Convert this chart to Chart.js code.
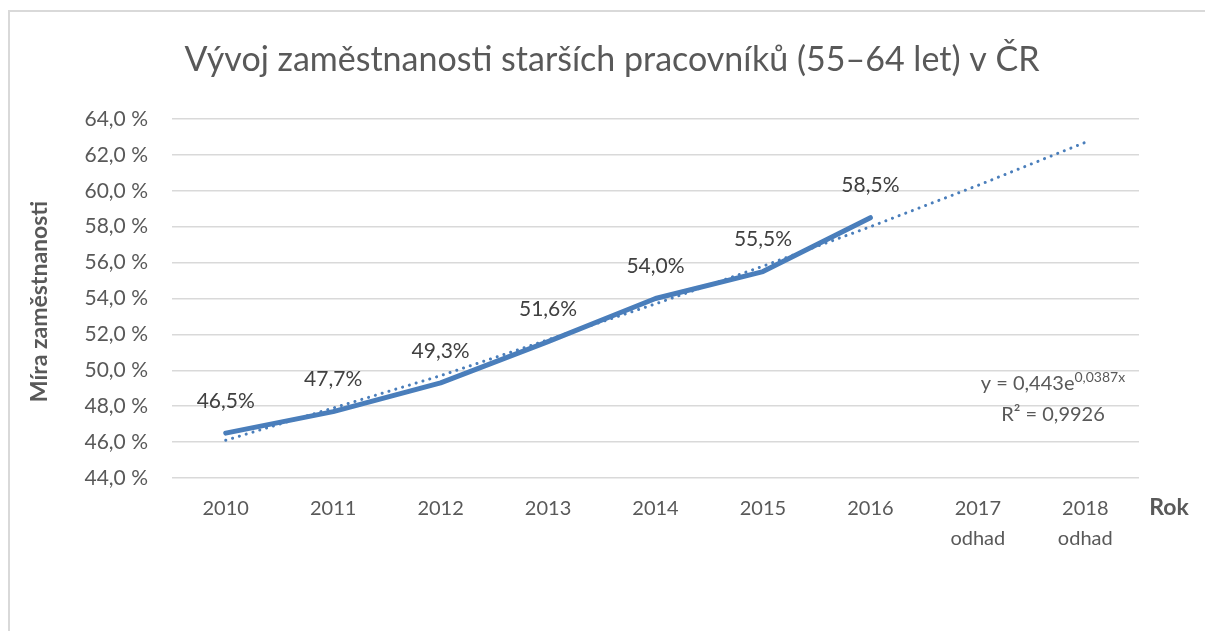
<!DOCTYPE html>
<html>
<head>
<meta charset="utf-8">
<script src="https://cdn.jsdelivr.net/npm/chart.js@4/dist/chart.umd.min.js"></script>
<style>
  html, body { margin: 0; padding: 0; background: #fff; }
  #frame { position: absolute; left: 8px; top: 10px; width: 1300px; height: 700px;
           border-top: 2px solid #d9d9d9; border-left: 2px solid #d9d9d9; }
  #wrap { position: absolute; left: 0; top: 0; width: 1205px; height: 631px; }
</style>
</head>
<body>
<div id="frame"></div>
<div id="wrap"><canvas id="chart"></canvas></div>
<script>
// categories and values
var years = [["2010"], ["2011"], ["2012"], ["2013"], ["2014"], ["2015"], ["2016"], ["2017", "odhad"], ["2018", "odhad"]];
var employment = [46.5, 47.7, 49.3, 51.6, 54.0, 55.5, 58.5, null, null];
var trend = [46.1, 47.9, 49.7, 51.7, 53.7, 55.8, 58.0, 60.3, 62.7];
var titleText = "Vývoj zaměstnanosti starších pracovníků (55–64 let) v ČR";
var yTitle = "Míra zaměstnanosti";
var xTitle = "Rok";

var blue = "#4A7EBB";
var grey = "#595959";
var font = "Lato, 'Open Sans', sans-serif";

function fmt(v, dec) {
    return v.toFixed(dec).replace(".", ",");
}

var extras = {
    id: "extras",
    afterDraw: function(chart) {
        var ctx = chart.ctx;
        var area = chart.chartArea;
        ctx.save();
        ctx.fillStyle = grey;
        ctx.textAlign = "center";
        ctx.textBaseline = "middle";

        // title
        ctx.font = "34px " + font;
        ctx.fillText(titleText, 612, 60);

        // axis titles
        ctx.font = "bold 23px " + font;
        ctx.fillText(xTitle, 1169, 508);
        ctx.save();
        ctx.translate(40, (area.top + area.bottom) / 2 + 3);
        ctx.rotate(-Math.PI / 2);
        ctx.fillText(yTitle, 0, 0);
        ctx.restore();

        // data labels
        ctx.fillStyle = "#404040";
        ctx.font = "21px " + font;
        var meta = chart.getDatasetMeta(0);
        meta.data.forEach(function(pt, i) {
            if (employment[i] == null) return;
            ctx.fillText(fmt(employment[i], 1) + "%", pt.x, pt.y - 32);
        });

        // trendline equation
        ctx.fillStyle = grey;
        ctx.font = "20px " + font;
        ctx.textAlign = "left";
        var base = "y = 0,443e";
        var sup = "0,0387x";
        var w1 = ctx.measureText(base).width;
        ctx.font = "14px " + font;
        var w2 = ctx.measureText(sup).width;
        var x0 = 1053 - (w1 + w2) / 2;
        ctx.font = "20px " + font;
        ctx.fillText(base, x0, 384);
        ctx.font = "14px " + font;
        ctx.fillText(sup, x0 + w1, 377);
        ctx.font = "20px " + font;
        ctx.textAlign = "center";
        ctx.fillText("R² = 0,9926", 1053, 415);
        ctx.restore();
    }
};

new Chart("chart", {
    type: "line",
    data: {
        labels: years,
        datasets: [{
            data: employment,
            borderColor: blue,
            borderWidth: 5,
            pointRadius: 0,
            borderCapStyle: "round",
            borderJoinStyle: "round",
            tension: 0,
            order: 0
        }, {
            data: trend,
            borderColor: blue,
            borderWidth: 3,
            borderDash: [0.1, 7],
            borderCapStyle: "round",
            pointRadius: 0,
            tension: 0,
            order: 1
        }]
    },
    options: {
        responsive: true,
        maintainAspectRatio: false,
        animation: false,
        layout: { padding: { left: 0, right: 66, top: 119, bottom: 0 } },
        plugins: {
            legend: { display: false },
            tooltip: { enabled: false }
        },
        scales: {
            x: {
                offset: true,
                grid: { display: false, drawTicks: false },
                border: { display: false },
                ticks: {
                    color: grey,
                    font: { family: font, size: 20, lineHeight: 1.5 },
                    padding: 16,
                    maxRotation: 0
                },
                afterFit: function(scale) { scale.height = 153; }
            },
            y: {
                min: 44,
                max: 64,
                grid: { color: "#d9d9d9", lineWidth: 1.5, drawTicks: false },
                border: { display: false },
                ticks: {
                    stepSize: 2,
                    color: grey,
                    padding: 24,
                    font: { family: font, size: 21 },
                    callback: function(v) { return fmt(v, 1) + " %"; }
                },
                afterFit: function(scale) { scale.width = 172; }
            }
        }
    },
    plugins: [extras]
});
</script>
</body>
</html>
